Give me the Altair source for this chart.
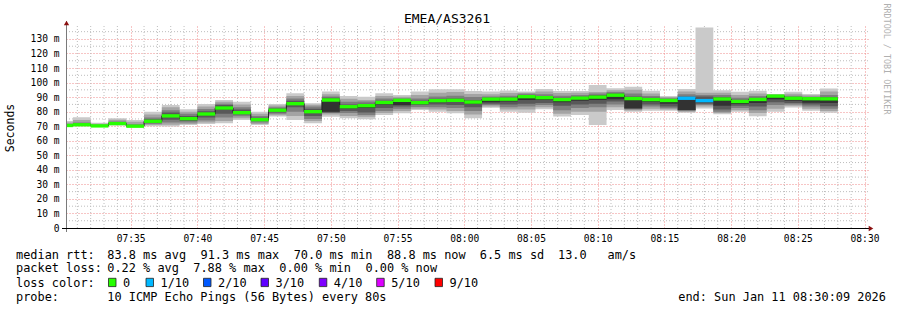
import altair as alt
import pandas as pd

# ---------------- data ----------------
STEP_S = 80              # probe step, seconds
FIRST_END_S = 40         # end of first step, seconds after 07:30:00
median_ms = [70.5, 71.0, 70.2, 71.8, 70.0, 73.4, 77.1, 75.2, 78.4, 82.5,
             79.3, 74.5, 81.0, 85.5, 80.0, 88.0, 83.4, 84.1, 86.3, 87.8,
             86.2, 87.6, 87.8, 86.6, 88.6, 88.6, 90.3, 89.6, 88.3, 89.3,
             90.0, 91.3, 89.0, 88.3, 87.7, 89.2, 87.6, 88.7, 87.0, 88.4,
             90.7, 89.2, 88.9, 88.8]
loss_count = [0] * 35 + [1, 1] + [0] * 7
pings_sorted = [
    [69.8, 70.0, 70.1, 70.2, 70.4, 70.5, 70.8, 71.2, 72.5, 73.6],
    [70.0, 70.3, 70.5, 70.7, 70.9, 71.0, 71.5, 72.5, 74.3, 76.1],
    [69.8, 69.9, 70.0, 70.1, 70.15, 70.2, 70.5, 71.0, 71.6, 72.4],
    [70.5, 70.8, 71.0, 71.3, 71.6, 71.8, 72.5, 73.2, 74.4, 75.4],
    [69.7, 69.8, 69.9, 69.95, 70.0, 70.0, 70.6, 71.3, 73.0, 74.3],
    [70.0, 70.8, 71.5, 72.4, 73.0, 73.4, 74.8, 76.0, 78.0, 80.0],
    [69.8, 71.0, 72.5, 74.5, 76.5, 77.1, 79.5, 81.0, 83.0, 84.6],
    [70.8, 71.5, 72.5, 73.5, 74.8, 75.2, 77.0, 78.5, 80.0, 81.6],
    [71.5, 72.5, 74.0, 76.0, 78.0, 78.4, 80.2, 81.8, 83.5, 85.3],
    [72.0, 73.5, 76.0, 78.5, 81.5, 82.5, 84.5, 85.5, 86.8, 88.0],
    [74.3, 75.5, 76.8, 78.0, 79.0, 79.3, 81.5, 83.0, 85.0, 86.8],
    [70.8, 71.5, 72.5, 73.5, 74.2, 74.5, 75.8, 77.0, 78.5, 80.0],
    [76.6, 77.5, 78.5, 79.5, 80.5, 81.0, 82.2, 83.0, 84.2, 85.3],
    [74.3, 77.0, 80.0, 83.0, 85.0, 85.5, 87.5, 89.0, 90.8, 92.6],
    [72.0, 73.5, 75.0, 77.0, 79.3, 80.0, 82.0, 83.5, 84.7, 85.7],
    [76.5, 78.0, 79.0, 79.5, 80.0, 88.0, 89.5, 90.5, 92.0, 93.8],
    [75.4, 77.0, 79.0, 80.5, 82.2, 83.4, 85.0, 86.8, 88.8, 90.8],
    [74.7, 76.5, 77.7, 79.5, 82.5, 84.1, 85.5, 87.0, 88.0, 90.3],
    [77.7, 79.0, 80.5, 82.5, 85.0, 86.3, 87.5, 89.0, 90.8, 92.6],
    [78.9, 80.5, 82.0, 83.5, 84.6, 87.8, 88.5, 89.3, 90.3, 91.5],
    [81.1, 82.0, 83.2, 84.5, 85.5, 86.2, 87.5, 89.0, 91.5, 93.8],
    [80.0, 81.5, 83.0, 85.0, 86.5, 87.6, 88.8, 90.5, 93.0, 95.4],
    [78.9, 80.5, 82.5, 84.5, 86.8, 87.8, 89.0, 91.0, 93.5, 95.4],
    [75.4, 78.0, 80.5, 83.0, 85.5, 86.6, 88.0, 90.0, 92.2, 94.2],
    [82.7, 83.5, 84.5, 85.5, 86.5, 88.6, 89.5, 90.5, 92.0, 93.8],
    [80.0, 81.5, 83.0, 85.0, 87.0, 88.6, 89.8, 91.0, 92.8, 94.5],
    [79.3, 81.5, 83.5, 85.5, 88.0, 90.3, 91.5, 92.3, 93.0, 93.8],
    [81.6, 83.0, 84.5, 86.0, 88.0, 89.6, 90.8, 92.0, 93.8, 95.6],
    [76.6, 78.5, 81.0, 84.0, 86.5, 88.3, 89.5, 91.0, 92.8, 94.2],
    [77.7, 80.0, 82.5, 85.0, 87.5, 89.3, 90.3, 91.5, 93.0, 94.2],
    [70.8, 80.0, 83.0, 85.5, 88.0, 90.0, 91.5, 92.5, 93.5, 98.3],
    [81.1, 83.0, 85.0, 87.0, 88.5, 91.3, 92.5, 93.5, 94.8, 96.1],
    [80.0, 80.8, 81.5, 82.0, 82.3, 89.0, 90.5, 92.5, 95.0, 97.2],
    [80.6, 82.0, 83.5, 85.0, 86.8, 88.3, 89.5, 90.8, 92.5, 94.4],
    [80.6, 81.5, 82.3, 83.5, 85.5, 87.7, 88.5, 89.2, 90.0, 90.7],
    [79.2, 80.0, 80.6, 81.0, 81.1, 89.2, 90.5, 92.0, 93.8, 95.5],
    [82.2, 83.5, 84.5, 85.5, 86.5, 87.6, 90.5, 91.5, 93.0, 137.9],
    [78.3, 79.0, 80.0, 81.5, 84.0, 88.7, 90.0, 91.5, 93.0, 94.8],
    [79.9, 81.0, 82.5, 84.0, 85.2, 87.0, 88.2, 89.5, 91.5, 93.7],
    [76.9, 79.0, 81.0, 83.5, 86.0, 88.4, 89.5, 90.8, 92.5, 94.4],
    [79.9, 82.0, 84.5, 86.5, 88.5, 90.7, 91.0, 91.4, 91.8, 92.1],
    [82.9, 84.0, 85.0, 86.0, 87.5, 89.2, 90.0, 91.0, 92.3, 93.7],
    [80.6, 82.0, 83.5, 85.0, 86.1, 88.9, 89.6, 90.3, 91.2, 92.1],
    [79.2, 80.5, 82.0, 83.8, 86.0, 88.8, 90.0, 91.5, 93.8, 96.0],
]
x_tick_seconds = [300 * i for i in range(1, 13)]       # 07:35 ... 08:30
y_tick_ms = list(range(0, 131, 10))
median_stats = [83.8, 91.3, 70.0, 88.8]   # avg, max, min, now
median_sd = 6.5
median_amps = 13.0
loss_stats = [0.22, 7.88, 0.00, 0.00]     # avg, max, min, now
loss_labels = ["0", "1/10", "2/10", "3/10", "4/10", "5/10", "9/10"]
loss_colors = ["#26ff00", "#00b8ff", "#0059ff", "#5e00ff", "#7e00ff", "#dd00ff", "#ff0000"]
loss_levels = [0, 1, 2, 3, 4, 5, 9]
smoke_colors = ["#cacaca", "#a4a4a4", "#7e7e7e", "#585858", "#323232"]
title_text = "EMEA/AS3261"
probe_text = "10 ICMP Echo Pings (56 Bytes) every 80s"
end_text = "end: Sun Jan 11 08:30:09 2026"
watermark = "RRDTOOL / TOBI OETIKER"

# ---------------- layout ----------------
MONO = "DejaVu Sans Mono"
LEFT, TOP, W, H = 66, 26, 802, 202
X_DOM = [9, 3615.7]
Y_DOM = [0, 138.9]
MED_HALF = 1.15
RED = "#ee8a8a"
GRAY = "#bdbdbd"

n = len(median_ms)
starts = [FIRST_END_S - STEP_S + STEP_S * k for k in range(n)]
ends = [s + STEP_S for s in starts]

xs = alt.Scale(domain=X_DOM, nice=False, zero=False)
ys = alt.Scale(domain=Y_DOM, nice=False, zero=False)

minor_x = [m * 60 for m in range(1, 61) if m % 5 != 0]
minor_y = [v for v in range(5, 139, 5) if v % 10 != 0]

x_axis = alt.Axis(values=x_tick_seconds,
                  labelExpr="timeFormat(datetime(2026, 0, 11, 7, 30, datum.value), '%H:%M')",
                  grid=True, gridColor=RED, gridDash=[1, 2], gridWidth=1,
                  ticks=False, tickSize=0, domain=False, labelFlush=False,
                  labelFont=MONO, labelFontSize=9.6, labelColor="#000",
                  labelPadding=5, title=None)
y_axis = alt.Axis(values=y_tick_ms,
                  labelExpr="datum.value == 0 ? '0' : datum.value + ' m'",
                  grid=True, gridColor=RED, gridDash=[1, 2], gridWidth=1,
                  ticks=False, tickSize=0, domain=False, labelFlush=False,
                  labelFont=MONO, labelFontSize=9.6, labelColor="#000",
                  labelPadding=7, title="Seconds", titleFont=MONO,
                  titleFontSize=11.5, titleFontWeight="normal", titleColor="#000",
                  titleX=10 - LEFT, titleY=127.5 - TOP, titleAngle=270,
                  titleAlign="center", titleBaseline="middle")


def X(field):
    return alt.X(field, scale=xs, axis=x_axis)


def Y(field):
    return alt.Y(field, scale=ys, axis=y_axis)


vgrid = alt.Chart(pd.DataFrame({"t": minor_x})).mark_rule(
    color=GRAY, strokeDash=[1, 2], strokeWidth=1).encode(x=X("t:Q"))
hgrid = alt.Chart(pd.DataFrame({"v": minor_y})).mark_rule(
    color=GRAY, strokeDash=[1, 2], strokeWidth=1).encode(y=Y("v:Q"))

# smoke bands (outer pair first, inner pair last)
smoke_layers = []
for b in range(5):
    rows = []
    for k in range(n):
        rows.append({"t": starts[k], "lo": pings_sorted[k][b], "hi": pings_sorted[k][9 - b]})
    rows.append({"t": ends[-1], "lo": pings_sorted[-1][b], "hi": pings_sorted[-1][9 - b]})
    smoke_layers.append(
        alt.Chart(pd.DataFrame(rows)).mark_area(
            interpolate="step-after", color=smoke_colors[b], clip=True, opacity=1).encode(
            x=X("t:Q"), y=Y("lo:Q"), y2="hi:Q"))

# median step line
med_rows = [{"t": starts[k], "m": median_ms[k]} for k in range(n)]
med_rows.append({"t": ends[-1], "m": median_ms[-1]})
med_line = alt.Chart(pd.DataFrame(med_rows)).mark_line(
    interpolate="step-after", color="#202020", strokeWidth=1, clip=True).encode(
    x=X("t:Q"), y=Y("m:Q"))

# median band coloured by loss
band_df = pd.DataFrame({
    "s": starts, "e": ends,
    "lo": [m - MED_HALF for m in median_ms],
    "hi": [m + MED_HALF for m in median_ms],
    "loss": loss_count,
})
med_band = alt.Chart(band_df).mark_rect(clip=True).encode(
    x=X("s:Q"), x2="e:Q", y=Y("lo:Q"), y2="hi:Q",
    color=alt.Color("loss:O", scale=alt.Scale(domain=loss_levels, range=loss_colors), legend=None))

one = pd.DataFrame({"a": [0]})


def rel_x(px):
    return px - LEFT


def rel_y(py):
    return py - TOP


# axis lines + arrows
y_line = alt.Chart(one).mark_rule(color="#7a7a7a", strokeWidth=1).encode(
    x=alt.value(0.5), y=alt.value(rel_y(21)), y2=alt.value(rel_y(232)))
x_line = alt.Chart(one).mark_rule(color="#000000", strokeWidth=1).encode(
    x=alt.value(rel_x(62)), x2=alt.value(rel_x(869)), y=alt.value(H + 0.5))
arrow_up = alt.Chart(one).mark_point(shape="triangle-up", filled=True, size=28,
                                     color="#8b1010", opacity=1).encode(
    x=alt.value(0.5), y=alt.value(rel_y(23)))
arrow_right = alt.Chart(one).mark_point(shape="triangle-right", filled=True, size=28,
                                        color="#8b1010", opacity=1).encode(
    x=alt.value(rel_x(871)), y=alt.value(H + 0.5))


def text_layer(s, px, py, size=11.9, align="left", color="#000000", angle=0):
    return alt.Chart(one).mark_text(
        text=s, font=MONO, fontSize=size, align=align, baseline="middle",
        color=color, angle=angle).encode(x=alt.value(rel_x(px)), y=alt.value(rel_y(py)))


L1, L2, L3, L4 = 254.5, 268.3, 282.5, 296.5
texts = [
    text_layer(title_text, 447, 19, size=13, align="center"),
    text_layer(watermark, 887, 59, size=8.4, align="center", color="#b0b0b0", angle=90),
    text_layer("median rtt:", 16, L1),
    text_layer(f"{median_stats[0]:.1f} ms avg", 107.3, L1),
    text_layer(f"{median_stats[1]:.1f} ms max", 200.5, L1),
    text_layer(f"{median_stats[2]:.1f} ms min", 293.7, L1),
    text_layer(f"{median_stats[3]:.1f} ms now", 386.9, L1),
    text_layer(f"{median_sd:.1f} ms sd", 479.8, L1),
    text_layer(f"{median_amps:.1f}", 558, L1),
    text_layer("am/s", 607.5, L1),
    text_layer("packet loss:", 16, L2),
    text_layer(f"{loss_stats[0]:.2f} % avg", 107.3, L2),
    text_layer(f"{loss_stats[1]:.2f} % max", 193.3, L2),
    text_layer(f"{loss_stats[2]:.2f} % min", 279.3, L2),
    text_layer(f"{loss_stats[3]:.2f} % now", 365.5, L2),
    text_layer("loss color:", 16, L3),
    text_layer("probe:", 16, L4),
    text_layer(probe_text, 107.3, L4),
    text_layer(end_text, 678.3, L4),
]

box_x = [108.5, 146, 203.5, 261, 319.3, 376.7, 435]
boxes = []
for bx, lab, col in zip(box_x, loss_labels, loss_colors):
    boxes.append(alt.Chart(one).mark_rect(color=col, stroke="#222222", strokeWidth=0.8).encode(
        x=alt.value(rel_x(bx)), x2=alt.value(rel_x(bx + 7.5)),
        y=alt.value(rel_y(278.3)), y2=alt.value(rel_y(286.6))))
    texts.append(text_layer(lab, bx + 14.5, L3))

chart = alt.layer(
    vgrid, hgrid, *smoke_layers, med_line, med_band,
    y_line, x_line, arrow_up, arrow_right, *boxes, *texts
).properties(
    width=W, height=H,
    padding={"left": LEFT, "top": TOP, "right": 897 - LEFT - W, "bottom": 310 - TOP - H},
    autosize=alt.AutoSizeParams(type="none"),
    background="#ffffff",
).configure_view(stroke=None)

chart.save("out.html", embed_options={"renderer": "svg", "actions": False})
